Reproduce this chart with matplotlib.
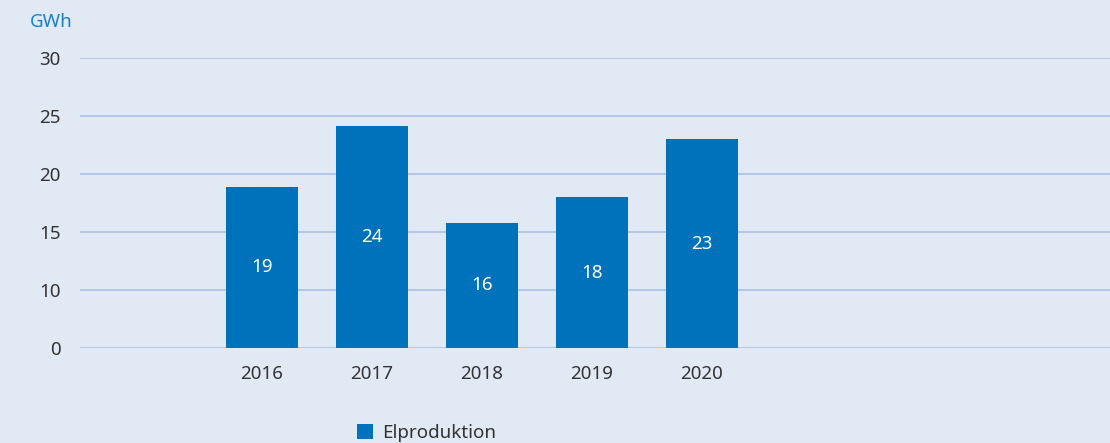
import matplotlib.pyplot as plt
from matplotlib.patches import Patch

years = ["2016", "2017", "2018", "2019", "2020"]
values = [18.9, 24.1, 15.8, 18.0, 23.0]
labels = ["19", "24", "16", "18", "23"]
ytick_vals = [5, 10, 15, 20, 25, 30]
ytick_labels = ["0", "10", "15", "20", "25", "30"]

bg = "#e1e9f4"
bar_c = "#0071bb"
grid_c = "#b3c7e5"
txt_c = "#333333"

plt.rcParams["font.family"] = ["Noto Sans", "DejaVu Sans"]

fig = plt.figure(figsize=(11.1, 4.43), dpi=100, facecolor=bg)
ax = fig.add_axes([80 / 1110, (443 - 348) / 443, 1030 / 1110, 290 / 443])
ax.set_facecolor(bg)

x = list(range(len(years)))
ax.bar(x, values, width=0.66, color=bar_c, zorder=3)
ax.set_xlim(-1.655, 7.71)
ax.set_ylim(5, 30)

for xi, v, lab in zip(x, values, labels):
    ax.text(xi, (v + 5) / 2, lab, color="white", fontsize=13.5,
            ha="center", va="center", zorder=4)

ax.set_yticks(ytick_vals)
ax.set_yticklabels(ytick_labels)
ax.set_xticks(x)
ax.set_xticklabels(years)
ax.grid(axis="y", color=grid_c, linewidth=1.4, zorder=0)
ax.tick_params(axis="both", length=0, labelsize=13.5, colors=txt_c)
ax.tick_params(axis="y", pad=14)
ax.tick_params(axis="x", pad=12)
for s in ax.spines.values():
    s.set_visible(False)

fig.text(30 / 1110, 1 - 22 / 443, "GWh", color="#1a80c4", fontsize=13.5,
         ha="left", va="center")

fig.legend(handles=[Patch(facecolor=bar_c, label="Elproduktion")],
           loc="center left", bbox_to_anchor=(357 / 1110, 1 - 433 / 443),
           frameon=False, fontsize=13.5, handlelength=0.85, handleheight=0.85,
           handletextpad=0.5, labelcolor=txt_c, borderaxespad=0,
           borderpad=0)

fig.savefig("out.png", dpi=100, facecolor=bg)
